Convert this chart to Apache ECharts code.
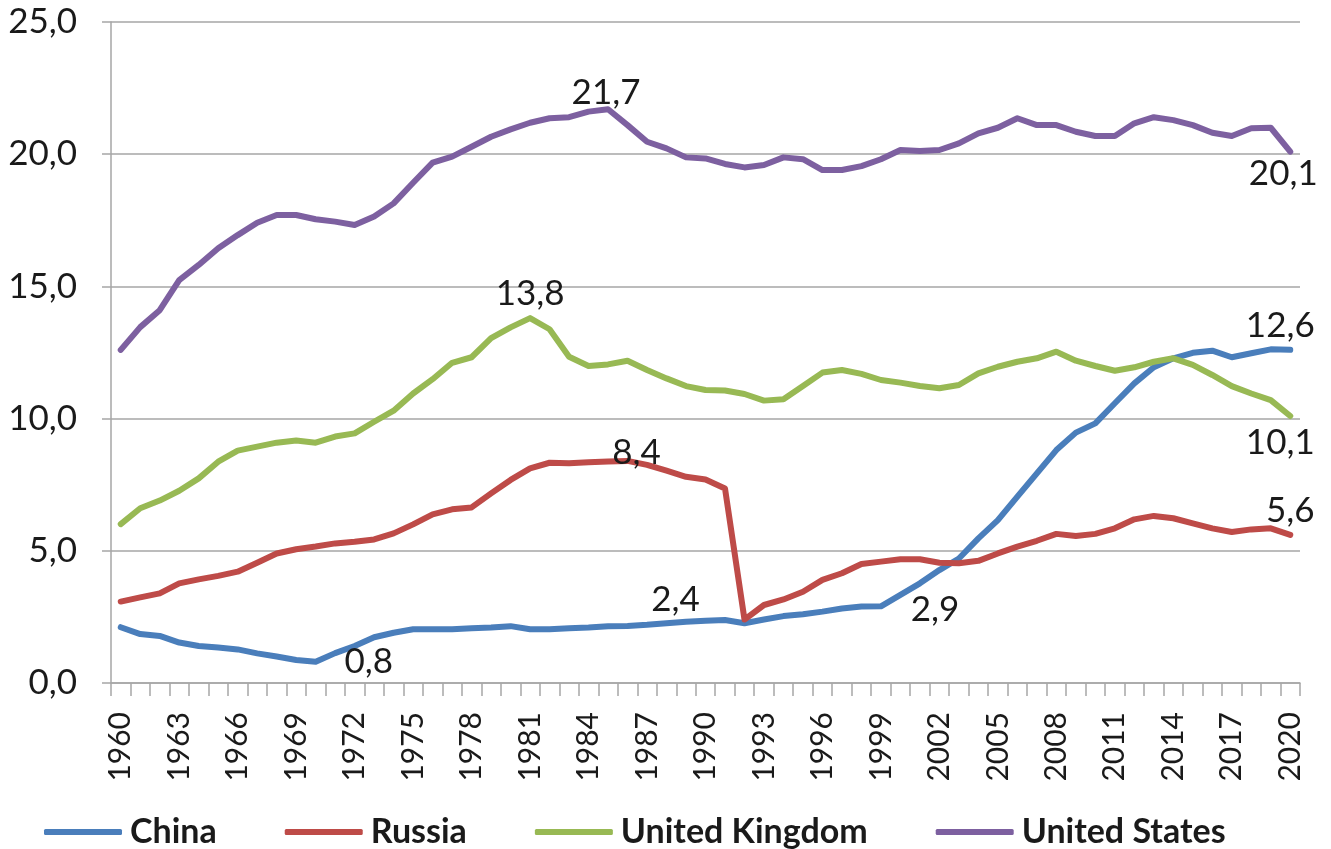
<!DOCTYPE html>
<html>
<head>
<meta charset="utf-8">
<script src="https://cdn.jsdelivr.net/npm/echarts@6/dist/echarts.min.js"></script>
<style>
  html, body { margin: 0; padding: 0; background: #fff; }
  #chart { width: 1331px; height: 849px; }
</style>
</head>
<body>
<div id="chart"></div>
<script>
// Years on the category axis
const years = [];
for (let y = 1960; y <= 2020; y++) years.push(String(y));

// Per-capita values, 1960–2020
const china = [
  2.11, 1.85, 1.78, 1.53, 1.40, 1.34, 1.27, 1.12, 1.00, 0.87,
  0.8, 1.13, 1.40, 1.73, 1.90, 2.03, 2.03, 2.03, 2.07, 2.10,
  2.15, 2.03, 2.03, 2.07, 2.10, 2.15, 2.16, 2.20, 2.26, 2.32,
  2.35, 2.38, 2.26, 2.40, 2.53, 2.60, 2.70, 2.82, 2.89, 2.9,
  3.33, 3.77, 4.27, 4.71, 5.47, 6.16, 7.05, 7.93, 8.81, 9.47,
  9.82, 10.58, 11.33, 11.94, 12.28, 12.49, 12.57, 12.32, 12.47, 12.62,
  12.6
];
const russia = [
  3.08, 3.24, 3.39, 3.77, 3.92, 4.05, 4.21, 4.55, 4.90, 5.06,
  5.16, 5.28, 5.34, 5.43, 5.66, 6.00, 6.38, 6.57, 6.64, 7.17,
  7.68, 8.12, 8.33, 8.31, 8.35, 8.38, 8.4, 8.25, 8.03, 7.80,
  7.70, 7.36, 2.4, 2.95, 3.16, 3.45, 3.90, 4.15, 4.50, 4.59,
  4.68, 4.68, 4.55, 4.53, 4.62, 4.90, 5.16, 5.38, 5.64, 5.56,
  5.64, 5.85, 6.19, 6.32, 6.23, 6.04, 5.85, 5.71, 5.81, 5.85,
  5.6
];
const unitedKingdom = [
  6.01, 6.61, 6.90, 7.27, 7.74, 8.37, 8.79, 8.94, 9.09, 9.17,
  9.09, 9.32, 9.44, 9.88, 10.30, 10.95, 11.49, 12.11, 12.32, 13.04,
  13.45, 13.8, 13.38, 12.34, 11.99, 12.05, 12.19, 11.84, 11.52, 11.23,
  11.08, 11.06, 10.93, 10.68, 10.73, 11.23, 11.74, 11.84, 11.69, 11.46,
  11.36, 11.23, 11.15, 11.27, 11.71, 11.96, 12.15, 12.28, 12.53, 12.19,
  11.99, 11.81, 11.94, 12.15, 12.28, 12.03, 11.65, 11.23, 10.95, 10.70,
  10.1
];
const unitedStates = [
  12.6, 13.46, 14.1, 15.24, 15.81, 16.44, 16.94, 17.41, 17.70, 17.70,
  17.54, 17.45, 17.32, 17.64, 18.14, 18.92, 19.68, 19.91, 20.28, 20.66,
  20.94, 21.19, 21.36, 21.40, 21.61, 21.7, 21.10, 20.47, 20.22, 19.88,
  19.84, 19.63, 19.50, 19.59, 19.88, 19.81, 19.40, 19.40, 19.55, 19.81,
  20.16, 20.12, 20.16, 20.41, 20.79, 21.0, 21.36, 21.10, 21.10, 20.85,
  20.69, 20.69, 21.17, 21.40, 21.29, 21.10, 20.81, 20.69, 20.98, 21.0,
  20.1
];

// Y axis tick values
const yTicks = { min: 0, max: 25, step: 5 };

const fmt = v => v.toFixed(1).replace('.', ',');

// Which points carry a value label, and where the label sits relative to the point
const labelled = {
  China:            [{ year: '1970', offset: [53, 0] },  { year: '1999', offset: [54, 3] },  { year: '2020', offset: [-10, -24] }],
  Russia:           [{ year: '1986', offset: [9, -8] },  { year: '1992', offset: [-69, -20] }, { year: '2020', offset: [0, -24] }],
  'United Kingdom': [{ year: '1981', offset: [0, -24] }, { year: '2020', offset: [-10, 27] }],
  'United States':  [{ year: '1985', offset: [-2, -17] }, { year: '2020', offset: [-7, 22] }]
};

const FONT = 'Lato, "Open Sans", sans-serif';
const TEXT = '#1a1a1a';
const GRID = '#a6a6a6';

function buildData(name, values) {
  const marks = labelled[name] || [];
  return values.map((v, i) => {
    const m = marks.find(a => a.year === years[i]);
    if (!m) return v;
    return {
      value: v,
      label: {
        show: true,
        position: 'inside',
        offset: m.offset,
        formatter: p => fmt(p.value),
        fontFamily: FONT,
        fontSize: 35,
        color: TEXT
      }
    };
  });
}

const seriesDefs = [
  { name: 'China', values: china, color: '#4A7EBB' },
  { name: 'Russia', values: russia, color: '#BE4B48' },
  { name: 'United Kingdom', values: unitedKingdom, color: '#98B954' },
  { name: 'United States', values: unitedStates, color: '#7D60A0' }
];

const chart = echarts.init(document.getElementById('chart'), null, { renderer: 'canvas' });

chart.setOption({
  animation: false,
  backgroundColor: '#ffffff',
  grid: { left: 111, right: 31, top: 22, bottom: 166, containLabel: false },
  legend: {
    left: 39,
    top: 810,
    itemWidth: 78,
    itemHeight: 6,
    itemGap: 68,
    icon: 'roundRect',
    textStyle: { fontFamily: FONT, fontSize: 34, fontWeight: 'bold', color: TEXT, padding: [0, 0, 0, 3] },
    data: seriesDefs.map(s => s.name)
  },
  xAxis: {
    type: 'category',
    data: years,
    boundaryGap: true,
    axisLine: { show: true, lineStyle: { color: GRID, width: 1.5 } },
    axisTick: { show: true, interval: 0, length: 13, lineStyle: { color: GRID, width: 1.5 } },
    axisLabel: {
      interval: 2,
      rotate: 90,
      margin: 29,
      fontFamily: FONT,
      fontSize: 30,
      color: TEXT
    },
    splitLine: { show: false }
  },
  yAxis: {
    type: 'value',
    min: yTicks.min,
    max: yTicks.max,
    interval: yTicks.step,
    axisLine: { show: true, lineStyle: { color: GRID, width: 1.5 } },
    axisTick: { show: true, length: 9, lineStyle: { color: GRID, width: 1.5 } },
    axisLabel: {
      margin: 34,
      fontFamily: FONT,
      fontSize: 35,
      color: TEXT,
      formatter: v => fmt(v)
    },
    splitLine: { show: true, lineStyle: { color: GRID, width: 1.5 } }
  },
  series: seriesDefs.map(s => ({
    name: s.name,
    type: 'line',
    data: buildData(s.name, s.values),
    color: s.color,
    symbol: 'circle',
    symbolSize: 0,
    showSymbol: true,
    showAllSymbol: true,
    lineStyle: { width: 6, color: s.color, cap: 'round', join: 'round' },
    itemStyle: { color: s.color },
    label: { show: false },
    emphasis: { disabled: true }
  }))
});
</script>
</body>
</html>
